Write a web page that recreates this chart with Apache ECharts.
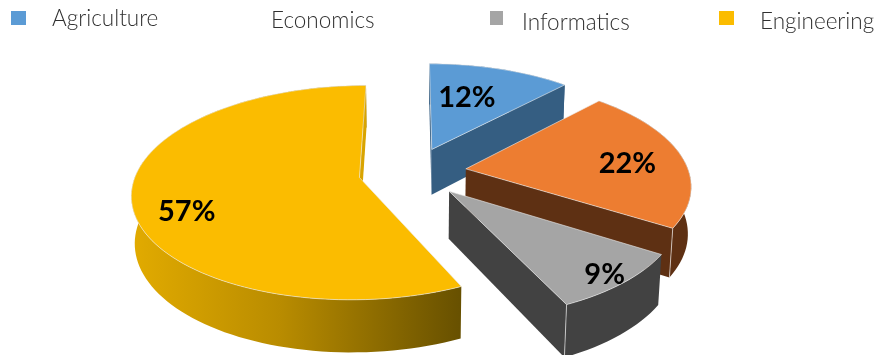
<!DOCTYPE html>
<html>
<head>
<meta charset="utf-8">
<style>html,body{margin:0;padding:0;background:#fff}#chart{width:874px;height:355px}</style>
<script src="https://cdn.jsdelivr.net/npm/echarts@6/dist/echarts.min.js"></script>
</head>
<body>
<div id="chart"></div>
<script>
// Faculty shares, in percent
const categories = ['Agriculture', 'Economics', 'Informatics', 'Engineering'];
const shares = [12, 22, 9, 57];

// Surface colours per slice
const topColors = ['#5B9BD5', '#ED7D31', '#A5A5A5', '#FBBC00'];
const wallColors = ['#355E82', '#5E3013', '#424242', '#B98C00'];

// Legend slots; the second entry is drawn without a swatch
const legendSlots = [
  { swatch: [11, 11, 15, 14], text: [52, 19] },
  { swatch: null, text: [271, 21] },
  { swatch: [490, 11, 13, 14], text: [522, 23] },
  { swatch: [719, 11, 15, 14], text: [760, 22] }
];

// Value-label spots: radius fraction and clockwise angle inside each slice
const labelSpots = [[0.625, 17], [0.74, 84.7], [0.9, 138.3], [0.785, 247.8]];

// Projection of the tilted disc
const view = { cx: 412.5, cy: 172, rx: 223, ry: 103.5, depth: 47, persp: 0.14, sag: 0.012, explode: 0.242 };

const total = shares.reduce((a, b) => a + b, 0);
const starts = shares.map((_, i) => shares.slice(0, i).reduce((a, b) => a + b, 0));
const rad = d => d * Math.PI / 180;

function project(u, v, h) {
  const k = 1 / (1 - view.persp * v + view.sag * h);
  return [view.cx + view.rx * u * k, view.cy + (view.ry * v + view.depth * h) * k];
}

function renderSlice(params, api) {
  const i = params.dataIndex;
  const a0 = starts[i] / total * 360;
  const a1 = a0 + api.value(0) / total * 360;
  const mid = rad((a0 + a1) / 2);
  const ox = view.explode * Math.sin(mid);
  const oy = -view.explode * Math.cos(mid);
  const at = (r, deg, h) => project(ox + r * Math.sin(rad(deg)), oy - r * Math.cos(rad(deg)), h);

  const steps = Math.max(12, Math.round((a1 - a0) / 2));
  const arc = h => {
    const pts = [];
    for (let s = 0; s <= steps; s++) pts.push(at(1, a0 + (a1 - a0) * s / steps, h));
    return pts;
  };
  const shoelace = p => p.reduce((acc, q, j) => {
    const n = p[(j + 1) % p.length];
    return acc + q[0] * n[1] - n[0] * q[1];
  }, 0);

  const children = [];
  const wallFill = i === 3
    ? new echarts.graphic.LinearGradient(0, 0, 1, 0, [
        { offset: 0, color: '#E2AB00' },
        { offset: 0.45, color: '#B98C00' },
        { offset: 1, color: '#675000' }
      ])
    : wallColors[i];

  // Rim wall goes down first so the radial walls and the top can cover its hidden part
  children.push({
    type: 'polygon',
    shape: { points: arc(0).concat(arc(1).reverse()) },
    style: { fill: wallFill }
  });

  // Radial walls, kept only when they face the viewer
  const endWall = [at(0, a1, 0), at(1, a1, 0), at(1, a1, 1), at(0, a1, 1)];
  const startWall = [at(0, a0, 0), at(1, a0, 0), at(1, a0, 1), at(0, a0, 1)];
  if (shoelace(startWall) < 0) {
    children.push({ type: 'polygon', shape: { points: startWall }, style: { fill: wallColors[i] } });
  }
  if (shoelace(endWall) > 0) {
    children.push({ type: 'polygon', shape: { points: endWall }, style: { fill: i === 3 ? '#D9A400' : wallColors[i] } });
    if (at(1, a1, 0)[1] > view.cy) {
      children.push({
        type: 'line',
        shape: { x1: at(1, a1, 0)[0], y1: at(1, a1, 0)[1], x2: at(1, a1, 1)[0], y2: at(1, a1, 1)[1] },
        style: { stroke: 'rgba(255,255,255,0.6)', lineWidth: 1 }
      });
    }
  }

  // Top face
  children.push({
    type: 'polygon',
    shape: { points: [at(0, a0, 0)].concat(arc(0)) },
    style: { fill: topColors[i], stroke: 'rgba(235,235,235,0.6)', lineWidth: 1, lineJoin: 'round' }
  });

  // Value label
  const spot = labelSpots[i];
  const lp = at(spot[0], spot[1], 0);
  children.push({
    type: 'text',
    style: {
      text: api.value(0) + '%',
      x: lp[0], y: lp[1] + 2,
      align: 'center', verticalAlign: 'middle',
      fontFamily: 'Lato', fontWeight: 'bold', fontSize: 29, fill: '#000'
    }
  });

  return { type: 'group', children };
}

const legendElements = [];
categories.forEach((name, i) => {
  const slot = legendSlots[i];
  if (slot.swatch) {
    legendElements.push({
      type: 'rect',
      shape: { x: slot.swatch[0], y: slot.swatch[1], width: slot.swatch[2], height: slot.swatch[3] },
      style: { fill: topColors[i] }
    });
  }
  legendElements.push({
    type: 'text',
    style: {
      text: name, x: slot.text[0], y: slot.text[1],
      verticalAlign: 'middle',
      fontFamily: 'Lato', fontWeight: 300, fontSize: 22.5, fill: '#303030'
    }
  });
});

const chart = echarts.init(document.getElementById('chart'), null, { renderer: 'canvas' });
chart.setOption({
  animation: false,
  backgroundColor: '#fff',
  graphic: { elements: legendElements },
  series: [{
    type: 'custom',
    coordinateSystem: 'none',
    silent: true,
    clip: false,
    data: shares.map(v => [v]),
    renderItem: renderSlice
  }]
});
</script>
</body>
</html>
